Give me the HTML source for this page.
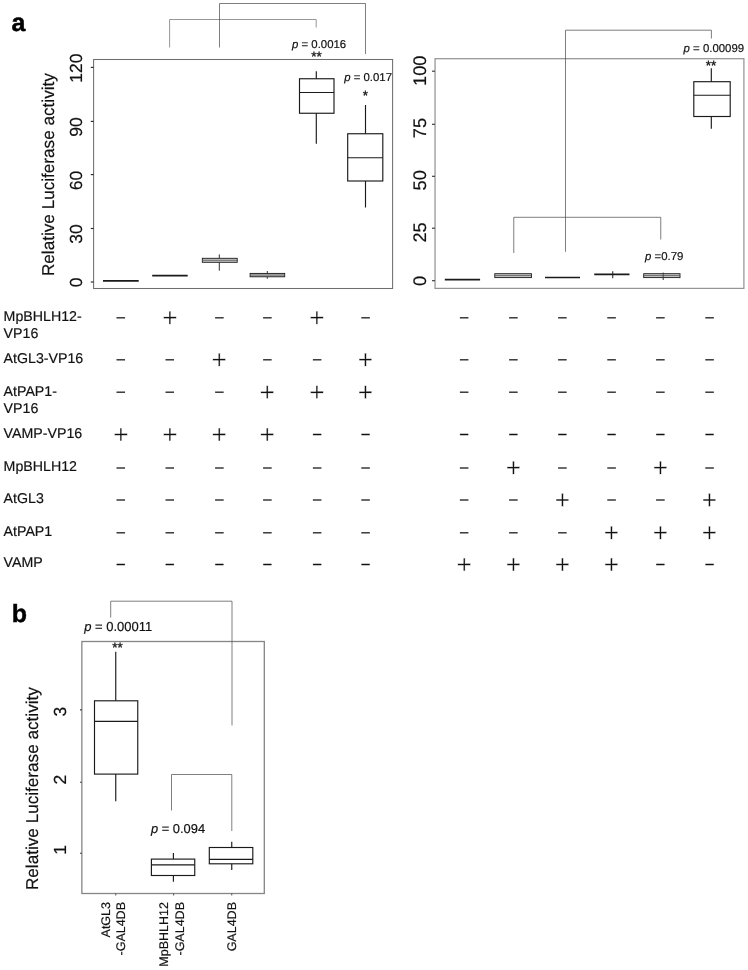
<!DOCTYPE html>
<html lang="en">
<head>
<meta charset="utf-8">
<title>Figure: relative luciferase activity</title>
<style>
html,body{margin:0;padding:0;background:#fff;}
body{width:748px;height:970px;overflow:hidden;}
svg{display:block;}
svg text{font-family:"Liberation Sans", Arial, Helvetica, sans-serif;fill:#111;stroke:#111;stroke-width:0.18px;text-rendering:geometricPrecision;}
svg text.pn{fill:#000;stroke:#000;stroke-width:0.45px;}
svg text.st{stroke:#111;stroke-width:0.3px;}
svg text.mi{font-size:16.6px;text-anchor:middle;stroke:#111;stroke-width:0.3px;}
svg text.pl{font-size:26.3px;text-anchor:middle;stroke:#fff;stroke-width:0.4px;}
</style>
</head>
<body>
<svg width="748" height="970" viewBox="0 0 748 970">
<rect x="0" y="0" width="748" height="970" fill="#ffffff"/>
<!-- panel a, left plot -->
<text x="11.4" y="31" font-size="25" text-anchor="start" font-weight="bold" class="pn">a</text>
<rect x="93.6" y="59.5" width="299.0" height="229.0" fill="none" stroke="#6e6e6e" stroke-width="1.05"/>
<line x1="90.8" y1="282" x2="93.6" y2="282" stroke="#2a2a2a" stroke-width="1.15"/>
<text x="81.6" y="282.4" font-size="17.5" text-anchor="middle" transform="rotate(-90 81.6 282.4)">0</text>
<line x1="90.8" y1="228.5" x2="93.6" y2="228.5" stroke="#2a2a2a" stroke-width="1.15"/>
<text x="81.6" y="233.9" font-size="17.5" text-anchor="middle" transform="rotate(-90 81.6 233.9)">30</text>
<line x1="90.8" y1="174.6" x2="93.6" y2="174.6" stroke="#2a2a2a" stroke-width="1.15"/>
<text x="81.6" y="180.4" font-size="17.5" text-anchor="middle" transform="rotate(-90 81.6 180.4)">60</text>
<line x1="90.8" y1="121.4" x2="93.6" y2="121.4" stroke="#2a2a2a" stroke-width="1.15"/>
<text x="81.6" y="127.0" font-size="17.5" text-anchor="middle" transform="rotate(-90 81.6 127.0)">90</text>
<line x1="90.8" y1="67.4" x2="93.6" y2="67.4" stroke="#2a2a2a" stroke-width="1.15"/>
<text x="81.6" y="68.1" font-size="17.5" text-anchor="middle" transform="rotate(-90 81.6 68.1)">120</text>
<text x="53.8" y="174.6" font-size="17.15" text-anchor="middle" transform="rotate(-90 53.8 174.6)">Relative Luciferase activity</text>
<path d="M169.6 47.5 L169.6 19.5 L316.2 19.5 L316.2 27.5" fill="none" stroke="#6a6a6a" stroke-width="0.7"/>
<path d="M219.5 47.5 L219.5 3.5 L365.5 3.5 L365.5 54" fill="none" stroke="#484848" stroke-width="0.7"/>
<line x1="103" y1="280.9" x2="138.7" y2="280.9" stroke="#1a1a1a" stroke-width="1.8"/>
<line x1="152.2" y1="275.6" x2="187.7" y2="275.6" stroke="#1a1a1a" stroke-width="1.8"/>
<line x1="219.3" y1="254.4" x2="219.3" y2="258.3" stroke="#1a1a1a" stroke-width="0.9"/>
<line x1="219.3" y1="262.3" x2="219.3" y2="270.7" stroke="#1a1a1a" stroke-width="0.9"/>
<rect x="202.3" y="258.3" width="34.9" height="4.0" fill="#c8c8c8" stroke="#1a1a1a" stroke-width="0.9"/>
<line x1="202.3" y1="260.3" x2="237.2" y2="260.3" stroke="#555" stroke-width="0.8"/>
<line x1="267.3" y1="271" x2="267.3" y2="273.4" stroke="#1a1a1a" stroke-width="0.9"/>
<line x1="267.3" y1="276.8" x2="267.3" y2="278.8" stroke="#1a1a1a" stroke-width="0.9"/>
<rect x="250.1" y="273.4" width="34.6" height="3.4" fill="#a8a8a8" stroke="#1a1a1a" stroke-width="0.9"/>
<line x1="250.1" y1="275.1" x2="284.7" y2="275.1" stroke="#777" stroke-width="0.8"/>
<line x1="316.3" y1="71.25" x2="316.3" y2="78.75" stroke="#1a1a1a" stroke-width="1.15"/>
<line x1="316.3" y1="113.25" x2="316.3" y2="143.75" stroke="#1a1a1a" stroke-width="1.15"/>
<rect x="299.5" y="78.75" width="34.5" height="34.5" fill="none" stroke="#1a1a1a" stroke-width="1.15"/>
<line x1="299.5" y1="92.5" x2="334" y2="92.5" stroke="#1a1a1a" stroke-width="1.15"/>
<line x1="365.5" y1="105" x2="365.5" y2="133.75" stroke="#1a1a1a" stroke-width="1.15"/>
<line x1="365.5" y1="181" x2="365.5" y2="207.5" stroke="#1a1a1a" stroke-width="1.15"/>
<rect x="347.7" y="133.75" width="35.1" height="47.25" fill="none" stroke="#1a1a1a" stroke-width="1.15"/>
<line x1="347.7" y1="157.75" x2="382.8" y2="157.75" stroke="#1a1a1a" stroke-width="1.15"/>
<text x="292" y="47.5" font-size="11.4" text-anchor="start"><tspan font-style="italic">p</tspan> = 0.0016</text>
<text x="316.5" y="60.8" font-size="13.5" text-anchor="middle" class="st">**</text>
<text x="344.2" y="81.3" font-size="11.4" text-anchor="start"><tspan font-style="italic">p</tspan> = 0.017</text>
<text x="365.3" y="100.3" font-size="13.5" text-anchor="middle" class="st">*</text>
<!-- panel a, right plot -->
<rect x="435.05" y="58.7" width="308.85" height="229.7" fill="none" stroke="#959595" stroke-width="1.25"/>
<line x1="432.0" y1="280.7" x2="435.0" y2="280.7" stroke="#3a3a3a" stroke-width="1.15"/>
<text x="426.2" y="281" font-size="18.2" text-anchor="middle" transform="rotate(-90 426.2 281)">0</text>
<line x1="432.0" y1="228.2" x2="435.0" y2="228.2" stroke="#3a3a3a" stroke-width="1.15"/>
<text x="426.2" y="232.5" font-size="18.2" text-anchor="middle" transform="rotate(-90 426.2 232.5)">25</text>
<line x1="432.0" y1="176.3" x2="435.0" y2="176.3" stroke="#3a3a3a" stroke-width="1.15"/>
<text x="426.2" y="180.3" font-size="18.2" text-anchor="middle" transform="rotate(-90 426.2 180.3)">50</text>
<line x1="432.0" y1="124.3" x2="435.0" y2="124.3" stroke="#3a3a3a" stroke-width="1.15"/>
<text x="426.2" y="128.1" font-size="18.2" text-anchor="middle" transform="rotate(-90 426.2 128.1)">75</text>
<line x1="432.0" y1="71.2" x2="435.0" y2="71.2" stroke="#3a3a3a" stroke-width="1.15"/>
<text x="426.2" y="70.8" font-size="18.2" text-anchor="middle" transform="rotate(-90 426.2 70.8)">100</text>
<path d="M565.5 251.75 L565.5 30.2 L711.4 30.2 L711.4 38.5" fill="none" stroke="#484848" stroke-width="0.7"/>
<path d="M513.75 253 L513.75 217.3 L660.75 217.3 L660.75 239.5" fill="none" stroke="#484848" stroke-width="0.7"/>
<line x1="444.8" y1="279.7" x2="480.1" y2="279.7" stroke="#1a1a1a" stroke-width="1.7"/>
<line x1="513.1" y1="273.7" x2="513.1" y2="273.7" stroke="#1a1a1a" stroke-width="0.9"/>
<line x1="513.1" y1="277.6" x2="513.1" y2="277.6" stroke="#1a1a1a" stroke-width="0.9"/>
<rect x="494.8" y="273.7" width="36.7" height="3.9" fill="#c8c8c8" stroke="#1a1a1a" stroke-width="0.9"/>
<line x1="494.8" y1="275.6" x2="531.5" y2="275.6" stroke="#555" stroke-width="0.8"/>
<line x1="545" y1="277.5" x2="580" y2="277.5" stroke="#1a1a1a" stroke-width="1.7"/>
<line x1="594.25" y1="274.35" x2="629.5" y2="274.35" stroke="#1a1a1a" stroke-width="1.7"/>
<line x1="612.75" y1="271.25" x2="612.75" y2="278.25" stroke="#1a1a1a" stroke-width="1.0"/>
<line x1="663.2" y1="272.6" x2="663.2" y2="273.7" stroke="#1a1a1a" stroke-width="0.9"/>
<line x1="663.2" y1="277.6" x2="663.2" y2="280" stroke="#1a1a1a" stroke-width="0.9"/>
<rect x="643.7" y="273.7" width="36.3" height="3.9" fill="#c8c8c8" stroke="#1a1a1a" stroke-width="0.9"/>
<line x1="643.7" y1="275.6" x2="680" y2="275.6" stroke="#555" stroke-width="0.8"/>
<line x1="663.2" y1="273.7" x2="663.2" y2="277.6" stroke="#333" stroke-width="0.8"/>
<line x1="711.3" y1="68.2" x2="711.3" y2="81.7" stroke="#1a1a1a" stroke-width="1.15"/>
<line x1="711.3" y1="116.5" x2="711.3" y2="128.75" stroke="#1a1a1a" stroke-width="1.15"/>
<rect x="693.8" y="81.7" width="36.4" height="34.8" fill="none" stroke="#1a1a1a" stroke-width="1.15"/>
<line x1="693.8" y1="95.25" x2="730.2" y2="95.25" stroke="#1a1a1a" stroke-width="1.15"/>
<text x="683.6" y="51.75" font-size="11.4" text-anchor="start"><tspan font-style="italic">p</tspan> = 0.00099</text>
<text x="711.1" y="70.2" font-size="13.5" text-anchor="middle" class="st">**</text>
<text x="645" y="260" font-size="11.4" text-anchor="start"><tspan font-style="italic">p</tspan> =0.79</text>
<!-- presence / absence table -->
<text x="3.6" y="321.05" font-size="14.2" text-anchor="start">MpBHLH12-</text>
<text x="3.6" y="337.75" font-size="14.2" text-anchor="start">VP16</text>
<text class="mi" x="120.9" y="323.22" transform="rotate(0.03 120.9 323.22)">−</text>
<text class="pl" x="169.9" y="326.44" transform="rotate(0.03 169.9 326.44)">+</text>
<text class="mi" x="219.3" y="323.22" transform="rotate(0.03 219.3 323.22)">−</text>
<text class="mi" x="267.3" y="323.22" transform="rotate(0.03 267.3 323.22)">−</text>
<text class="pl" x="317" y="326.44" transform="rotate(0.03 317 326.44)">+</text>
<text class="mi" x="365.5" y="323.22" transform="rotate(0.03 365.5 323.22)">−</text>
<text class="mi" x="464.2" y="323.22" transform="rotate(0.03 464.2 323.22)">−</text>
<text class="mi" x="513.4" y="323.22" transform="rotate(0.03 513.4 323.22)">−</text>
<text class="mi" x="562.4" y="323.22" transform="rotate(0.03 562.4 323.22)">−</text>
<text class="mi" x="611.5" y="323.22" transform="rotate(0.03 611.5 323.22)">−</text>
<text class="mi" x="660.4" y="323.22" transform="rotate(0.03 660.4 323.22)">−</text>
<text class="mi" x="709.5" y="323.22" transform="rotate(0.03 709.5 323.22)">−</text>
<text x="3.6" y="363.0" font-size="14.2" text-anchor="start">AtGL3-VP16</text>
<text class="mi" x="120.9" y="365.32" transform="rotate(0.03 120.9 365.32)">−</text>
<text class="mi" x="169.9" y="365.32" transform="rotate(0.03 169.9 365.32)">−</text>
<text class="pl" x="219.3" y="368.54" transform="rotate(0.03 219.3 368.54)">+</text>
<text class="mi" x="267.3" y="365.32" transform="rotate(0.03 267.3 365.32)">−</text>
<text class="mi" x="317" y="365.32" transform="rotate(0.03 317 365.32)">−</text>
<text class="pl" x="365.5" y="368.54" transform="rotate(0.03 365.5 368.54)">+</text>
<text class="mi" x="464.2" y="365.32" transform="rotate(0.03 464.2 365.32)">−</text>
<text class="mi" x="513.4" y="365.32" transform="rotate(0.03 513.4 365.32)">−</text>
<text class="mi" x="562.4" y="365.32" transform="rotate(0.03 562.4 365.32)">−</text>
<text class="mi" x="611.5" y="365.32" transform="rotate(0.03 611.5 365.32)">−</text>
<text class="mi" x="660.4" y="365.32" transform="rotate(0.03 660.4 365.32)">−</text>
<text class="mi" x="709.5" y="365.32" transform="rotate(0.03 709.5 365.32)">−</text>
<text x="3.6" y="395.8" font-size="14.2" text-anchor="start">AtPAP1-</text>
<text x="3.6" y="412.5" font-size="14.2" text-anchor="start">VP16</text>
<text class="mi" x="120.9" y="397.72" transform="rotate(0.03 120.9 397.72)">−</text>
<text class="mi" x="169.9" y="397.72" transform="rotate(0.03 169.9 397.72)">−</text>
<text class="mi" x="219.3" y="397.72" transform="rotate(0.03 219.3 397.72)">−</text>
<text class="pl" x="267.3" y="400.94" transform="rotate(0.03 267.3 400.94)">+</text>
<text class="pl" x="317" y="400.94" transform="rotate(0.03 317 400.94)">+</text>
<text class="pl" x="365.5" y="400.94" transform="rotate(0.03 365.5 400.94)">+</text>
<text class="mi" x="464.2" y="397.72" transform="rotate(0.03 464.2 397.72)">−</text>
<text class="mi" x="513.4" y="397.72" transform="rotate(0.03 513.4 397.72)">−</text>
<text class="mi" x="562.4" y="397.72" transform="rotate(0.03 562.4 397.72)">−</text>
<text class="mi" x="611.5" y="397.72" transform="rotate(0.03 611.5 397.72)">−</text>
<text class="mi" x="660.4" y="397.72" transform="rotate(0.03 660.4 397.72)">−</text>
<text class="mi" x="709.5" y="397.72" transform="rotate(0.03 709.5 397.72)">−</text>
<text x="3.6" y="437.7" font-size="14.2" text-anchor="start">VAMP-VP16</text>
<text class="pl" x="120.9" y="443.24" transform="rotate(0.03 120.9 443.24)">+</text>
<text class="pl" x="169.9" y="443.24" transform="rotate(0.03 169.9 443.24)">+</text>
<text class="pl" x="219.3" y="443.24" transform="rotate(0.03 219.3 443.24)">+</text>
<text class="pl" x="267.3" y="443.24" transform="rotate(0.03 267.3 443.24)">+</text>
<text class="mi" x="317" y="440.02" transform="rotate(0.03 317 440.02)">−</text>
<text class="mi" x="365.5" y="440.02" transform="rotate(0.03 365.5 440.02)">−</text>
<text class="mi" x="464.2" y="440.02" transform="rotate(0.03 464.2 440.02)">−</text>
<text class="mi" x="513.4" y="440.02" transform="rotate(0.03 513.4 440.02)">−</text>
<text class="mi" x="562.4" y="440.02" transform="rotate(0.03 562.4 440.02)">−</text>
<text class="mi" x="611.5" y="440.02" transform="rotate(0.03 611.5 440.02)">−</text>
<text class="mi" x="660.4" y="440.02" transform="rotate(0.03 660.4 440.02)">−</text>
<text class="mi" x="709.5" y="440.02" transform="rotate(0.03 709.5 440.02)">−</text>
<text x="3.6" y="470.7" font-size="14.2" text-anchor="start">MpBHLH12</text>
<text class="mi" x="120.9" y="473.42" transform="rotate(0.03 120.9 473.42)">−</text>
<text class="mi" x="169.9" y="473.42" transform="rotate(0.03 169.9 473.42)">−</text>
<text class="mi" x="219.3" y="473.42" transform="rotate(0.03 219.3 473.42)">−</text>
<text class="mi" x="267.3" y="473.42" transform="rotate(0.03 267.3 473.42)">−</text>
<text class="mi" x="317" y="473.42" transform="rotate(0.03 317 473.42)">−</text>
<text class="mi" x="365.5" y="473.42" transform="rotate(0.03 365.5 473.42)">−</text>
<text class="mi" x="464.2" y="473.42" transform="rotate(0.03 464.2 473.42)">−</text>
<text class="pl" x="513.4" y="476.64" transform="rotate(0.03 513.4 476.64)">+</text>
<text class="mi" x="562.4" y="473.42" transform="rotate(0.03 562.4 473.42)">−</text>
<text class="mi" x="611.5" y="473.42" transform="rotate(0.03 611.5 473.42)">−</text>
<text class="pl" x="660.4" y="476.64" transform="rotate(0.03 660.4 476.64)">+</text>
<text class="mi" x="709.5" y="473.42" transform="rotate(0.03 709.5 473.42)">−</text>
<text x="3.6" y="503.0" font-size="14.2" text-anchor="start">AtGL3</text>
<text class="mi" x="120.9" y="505.52" transform="rotate(0.03 120.9 505.52)">−</text>
<text class="mi" x="169.9" y="505.52" transform="rotate(0.03 169.9 505.52)">−</text>
<text class="mi" x="219.3" y="505.52" transform="rotate(0.03 219.3 505.52)">−</text>
<text class="mi" x="267.3" y="505.52" transform="rotate(0.03 267.3 505.52)">−</text>
<text class="mi" x="317" y="505.52" transform="rotate(0.03 317 505.52)">−</text>
<text class="mi" x="365.5" y="505.52" transform="rotate(0.03 365.5 505.52)">−</text>
<text class="mi" x="464.2" y="505.52" transform="rotate(0.03 464.2 505.52)">−</text>
<text class="mi" x="513.4" y="505.52" transform="rotate(0.03 513.4 505.52)">−</text>
<text class="pl" x="562.4" y="508.74" transform="rotate(0.03 562.4 508.74)">+</text>
<text class="mi" x="611.5" y="505.52" transform="rotate(0.03 611.5 505.52)">−</text>
<text class="mi" x="660.4" y="505.52" transform="rotate(0.03 660.4 505.52)">−</text>
<text class="pl" x="709.5" y="508.74" transform="rotate(0.03 709.5 508.74)">+</text>
<text x="3.6" y="535.5" font-size="14.2" text-anchor="start">AtPAP1</text>
<text class="mi" x="120.9" y="538.22" transform="rotate(0.03 120.9 538.22)">−</text>
<text class="mi" x="169.9" y="538.22" transform="rotate(0.03 169.9 538.22)">−</text>
<text class="mi" x="219.3" y="538.22" transform="rotate(0.03 219.3 538.22)">−</text>
<text class="mi" x="267.3" y="538.22" transform="rotate(0.03 267.3 538.22)">−</text>
<text class="mi" x="317" y="538.22" transform="rotate(0.03 317 538.22)">−</text>
<text class="mi" x="365.5" y="538.22" transform="rotate(0.03 365.5 538.22)">−</text>
<text class="mi" x="464.2" y="538.22" transform="rotate(0.03 464.2 538.22)">−</text>
<text class="mi" x="513.4" y="538.22" transform="rotate(0.03 513.4 538.22)">−</text>
<text class="mi" x="562.4" y="538.22" transform="rotate(0.03 562.4 538.22)">−</text>
<text class="pl" x="611.5" y="541.44" transform="rotate(0.03 611.5 541.44)">+</text>
<text class="pl" x="660.4" y="541.44" transform="rotate(0.03 660.4 541.44)">+</text>
<text class="pl" x="709.5" y="541.44" transform="rotate(0.03 709.5 541.44)">+</text>
<text x="3.6" y="567.4" font-size="14.2" text-anchor="start">VAMP</text>
<text class="mi" x="120.9" y="570.12" transform="rotate(0.03 120.9 570.12)">−</text>
<text class="mi" x="169.9" y="570.12" transform="rotate(0.03 169.9 570.12)">−</text>
<text class="mi" x="219.3" y="570.12" transform="rotate(0.03 219.3 570.12)">−</text>
<text class="mi" x="267.3" y="570.12" transform="rotate(0.03 267.3 570.12)">−</text>
<text class="mi" x="317" y="570.12" transform="rotate(0.03 317 570.12)">−</text>
<text class="mi" x="365.5" y="570.12" transform="rotate(0.03 365.5 570.12)">−</text>
<text class="pl" x="464.2" y="573.34" transform="rotate(0.03 464.2 573.34)">+</text>
<text class="pl" x="513.4" y="573.34" transform="rotate(0.03 513.4 573.34)">+</text>
<text class="pl" x="562.4" y="573.34" transform="rotate(0.03 562.4 573.34)">+</text>
<text class="pl" x="611.5" y="573.34" transform="rotate(0.03 611.5 573.34)">+</text>
<text class="mi" x="660.4" y="570.12" transform="rotate(0.03 660.4 570.12)">−</text>
<text class="mi" x="709.5" y="570.12" transform="rotate(0.03 709.5 570.12)">−</text>
<!-- panel b -->
<text x="11.8" y="621.6" font-size="25" text-anchor="start" font-weight="bold" class="pn">b</text>
<rect x="81.85" y="641.5" width="182.45" height="252.0" fill="none" stroke="#858585" stroke-width="1.3"/>
<line x1="80.0" y1="853.3" x2="81.8" y2="853.3" stroke="#3a3a3a" stroke-width="1.1"/>
<text x="66.2" y="850" font-size="17.5" text-anchor="middle" transform="rotate(-90 66.2 850)">1</text>
<line x1="80.0" y1="782.3" x2="81.8" y2="782.3" stroke="#3a3a3a" stroke-width="1.1"/>
<text x="66.2" y="779.6" font-size="17.5" text-anchor="middle" transform="rotate(-90 66.2 779.6)">2</text>
<line x1="80.0" y1="709.9" x2="81.8" y2="709.9" stroke="#3a3a3a" stroke-width="1.1"/>
<text x="66.2" y="711.6" font-size="17.5" text-anchor="middle" transform="rotate(-90 66.2 711.6)">3</text>
<text x="38" y="788.6" font-size="17.15" text-anchor="middle" transform="rotate(-90 38 788.6)">Relative Luciferase activity</text>
<line x1="115.75" y1="893.5" x2="115.75" y2="895.5" stroke="#444" stroke-width="0.9"/>
<line x1="173.6" y1="893.5" x2="173.6" y2="895.5" stroke="#444" stroke-width="0.9"/>
<line x1="231.75" y1="893.5" x2="231.75" y2="895.5" stroke="#444" stroke-width="0.9"/>
<path d="M110.7 617.6 L110.7 601.2 L232 601.2 L232 725.5" fill="none" stroke="#484848" stroke-width="0.7"/>
<path d="M171.5 810.5 L171.5 774.5 L231.8 774.5 L231.8 831" fill="none" stroke="#484848" stroke-width="0.7"/>
<line x1="115.75" y1="651.8" x2="115.75" y2="700.8" stroke="#1a1a1a" stroke-width="1.15"/>
<line x1="115.75" y1="774.1" x2="115.75" y2="801.3" stroke="#1a1a1a" stroke-width="1.15"/>
<rect x="94.5" y="700.8" width="43.25" height="73.3" fill="none" stroke="#1a1a1a" stroke-width="1.15"/>
<line x1="94.5" y1="721.3" x2="137.75" y2="721.3" stroke="#1a1a1a" stroke-width="1.15"/>
<line x1="173.4" y1="853" x2="173.4" y2="859.1" stroke="#1a1a1a" stroke-width="1.15"/>
<line x1="173.4" y1="875.5" x2="173.4" y2="881.8" stroke="#1a1a1a" stroke-width="1.15"/>
<rect x="151.4" y="859.1" width="43.35" height="16.4" fill="none" stroke="#1a1a1a" stroke-width="1.15"/>
<line x1="151.4" y1="864.8" x2="194.75" y2="864.8" stroke="#1a1a1a" stroke-width="1.15"/>
<line x1="231.75" y1="841.8" x2="231.75" y2="847.5" stroke="#1a1a1a" stroke-width="1.15"/>
<line x1="231.75" y1="863.8" x2="231.75" y2="870" stroke="#1a1a1a" stroke-width="1.15"/>
<rect x="209.3" y="847.5" width="43.5" height="16.3" fill="none" stroke="#1a1a1a" stroke-width="1.15"/>
<line x1="209.3" y1="859.3" x2="252.8" y2="859.3" stroke="#1a1a1a" stroke-width="1.15"/>
<text x="84.2" y="630.7" font-size="13" text-anchor="start"><tspan font-style="italic">p</tspan> = 0.00011</text>
<text x="117.5" y="652.2" font-size="13.5" text-anchor="middle" class="st">**</text>
<text x="151" y="832.6" font-size="12.9" text-anchor="start"><tspan font-style="italic">p</tspan> = 0.094</text>
<text x="110.3" y="902" font-size="12.5" text-anchor="end" transform="rotate(-90 110.3 902)">AtGL3</text>
<text x="125.3" y="902" font-size="12.5" text-anchor="end" transform="rotate(-90 125.3 902)">-GAL4DB</text>
<text x="167.6" y="902" font-size="12.5" text-anchor="end" transform="rotate(-90 167.6 902)">MpBHLH12</text>
<text x="183.7" y="902" font-size="12.5" text-anchor="end" transform="rotate(-90 183.7 902)">-GAL4DB</text>
<text x="235.6" y="902" font-size="12.5" text-anchor="end" transform="rotate(-90 235.6 902)">GAL4DB</text>
</svg>
</body>
</html>
